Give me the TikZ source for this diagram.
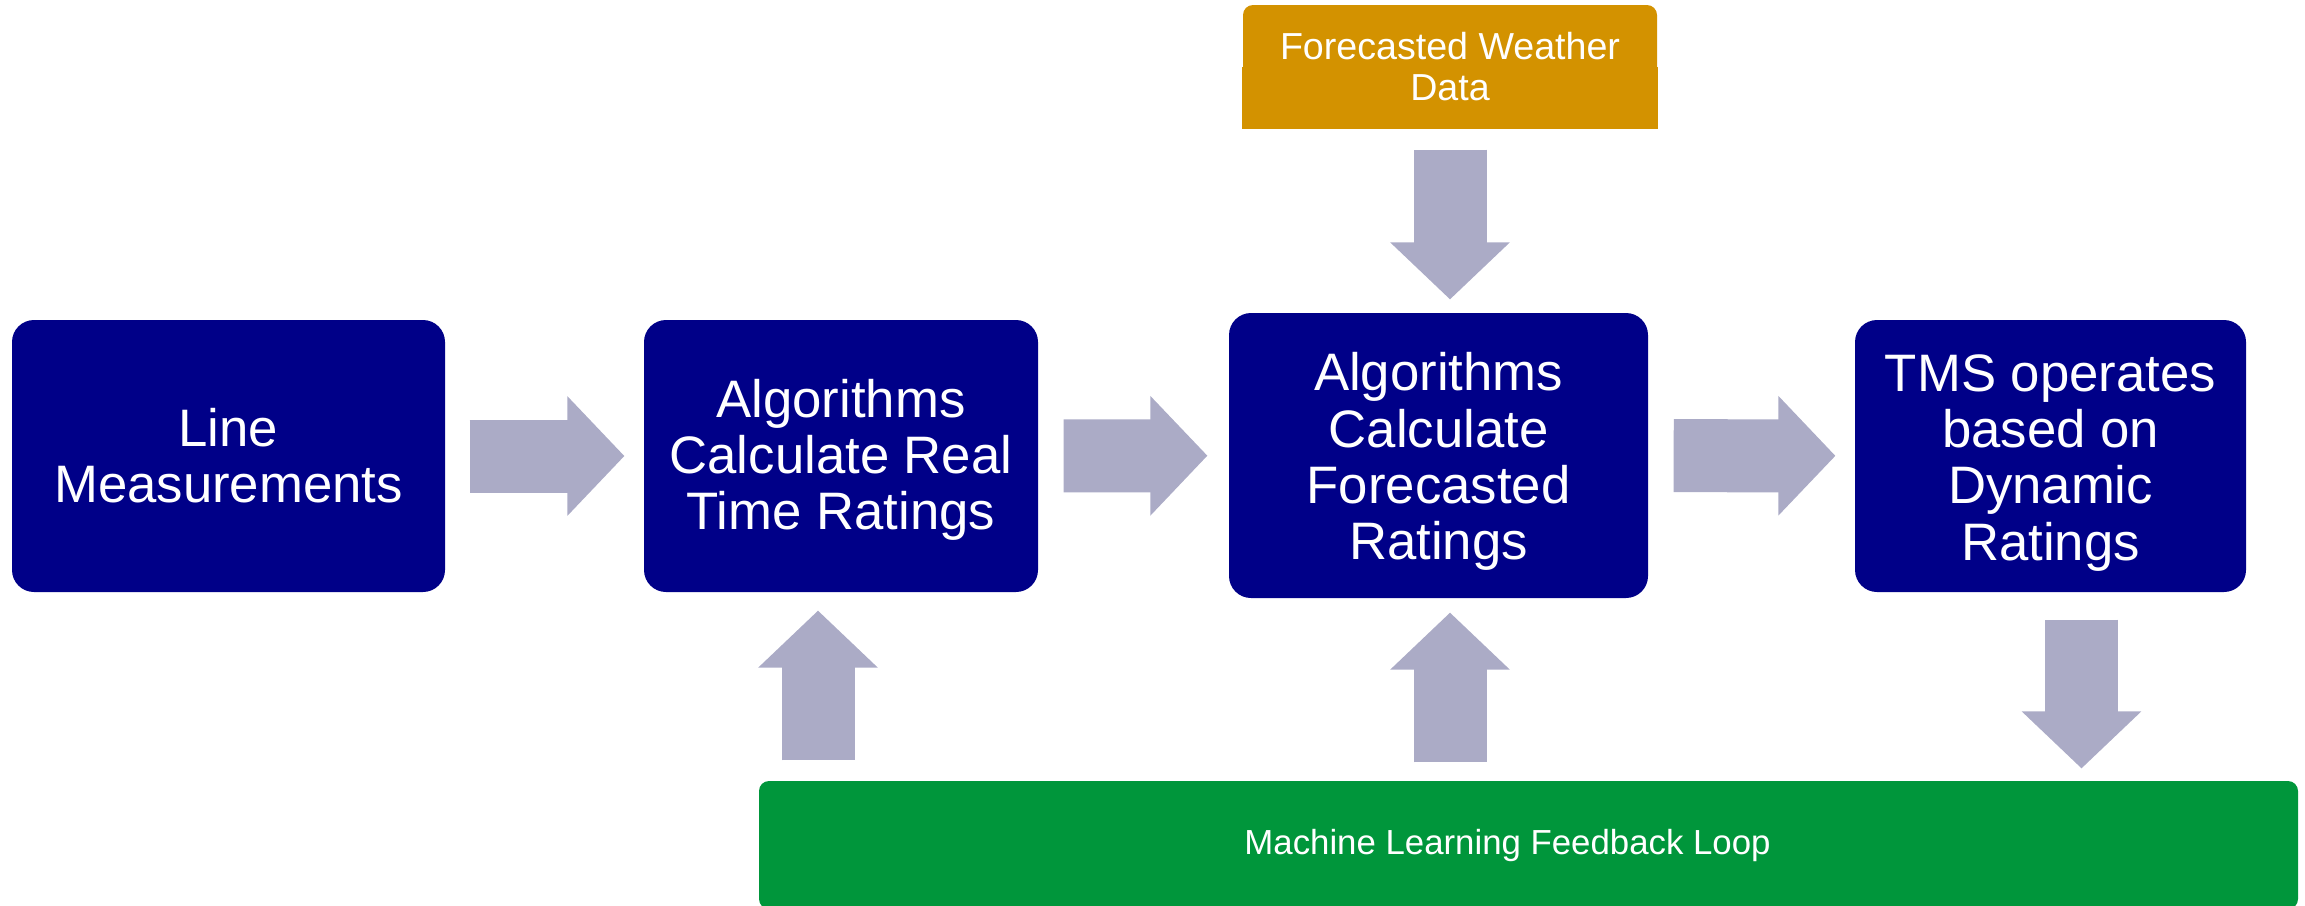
\documentclass[tikz,border=0pt]{standalone}
\usepackage{fontspec}
\setmainfont{Liberation Sans}
\usepackage{tikz}
\usetikzlibrary{arrows.meta}
\usetikzlibrary{backgrounds}
\definecolor{boxnavy}{RGB}{0,0,136}
\definecolor{arrowgrey}{RGB}{171,171,198}
\definecolor{weatherorange}{RGB}{211,146,0}
\definecolor{loopgreen}{RGB}{0,150,59}
\tikzset{
    stage/.style={fill=boxnavy, text=white, rounded corners=2.2mm, align=center, inner sep=0pt,
        minimum height=27.2mm, font=\fontsize{15}{16}\selectfont},
    flow/.style={draw=arrowgrey, line width=7.3mm, -{Triangle[width=11.9mm, length=5.7mm, line width=1.2pt]}}
}

\begin{document}
\begin{tikzpicture}[x=.1mm, y=-.1mm]
    \useasboundingbox (0, 0) rectangle (2305, 905);
    \node[stage, minimum width=43.3mm](meas) at (228.5, 456){Line\\Measurements};
    \node[stage, minimum width=39.4mm](rt) at (841, 456){\rule{0pt}{13pt}Algorithms\\Calculate Real\\Time Ratings};
    \node[stage, minimum width=41.9mm, minimum height=28.5mm](fc) at (1438.5, 455.5){\rule{0pt}{14.3pt}Algorithms\\Calculate\\Forecasted\\Ratings};
    \node[stage, minimum width=39.1mm](tms) at (2050.5, 456){\rule{0pt}{14.3pt}TMS operates\\based on\\Dynamic\\Ratings};
    \node[fill=weatherorange, text=white, rounded corners=1mm, align=center, inner sep=0pt,
        minimum width=41.4mm, minimum height=12.3mm, font=\fontsize{10.7}{11.9}\selectfont]
        (wx) at (1450, 66.5){Forecasted Weather\\Data};
    \begin{scope}[on background layer]
        \fill[weatherorange](wx.west) rectangle (wx.south east);
    \end{scope}
    \node[fill=loopgreen, text=white, rounded corners=1mm, inner sep=0pt,
        minimum width=153.9mm, minimum height=12.8mm, font=\fontsize{9.9}{12}\selectfont]
        (ml) at (1528.5, 845){Machine Learning Feedback Loop\kern4.2mm};
    \draw[flow, shorten <=2.4mm, shorten >=1.9mm](meas) -- (rt);
    \draw[flow, shorten <=2.5mm, shorten >=2.1mm](rt) -- (fc);
    \draw[flow, shorten <=2.5mm, shorten >=1.9mm](fc) -- (tms);
    \draw[flow, shorten <=2.1mm, shorten >=1.3mm](wx.south) -- (wx.south |- fc.north);
    \coordinate (up) at ([xshift=-2.3mm]rt.south);
    \draw[flow, shorten <=2mm, shorten >=1.8mm](up |- ml.north) -- (up);
    \draw[flow, shorten <=1.8mm, shorten >=1.4mm](wx.south |- ml.north) -- (wx.south |- fc.south);
    \coordinate (dn) at ([xshift=3.1mm]tms.south);
    \draw[flow, shorten <=2.7mm, shorten >=1.2mm](dn) -- (dn |- ml.north);
\end{tikzpicture}
\end{document}
